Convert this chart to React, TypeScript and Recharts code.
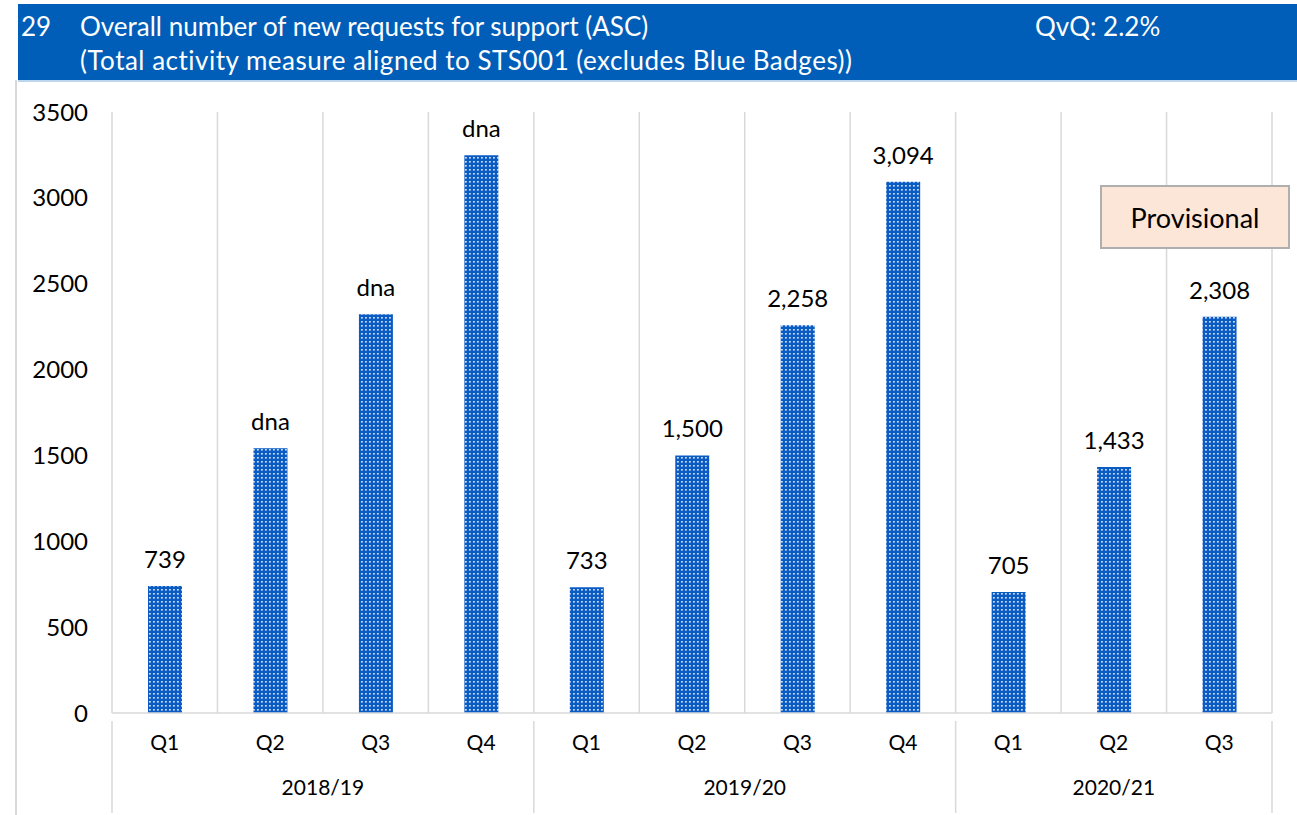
import React from 'react';
import { BarChart, Bar, XAxis, YAxis, CartesianGrid, LabelList } from 'recharts';

const quarters = ['Q1', 'Q2', 'Q3', 'Q4', 'Q1', 'Q2', 'Q3', 'Q4', 'Q1', 'Q2', 'Q3'];
const years = ['2018/19', '2018/19', '2018/19', '2018/19', '2019/20', '2019/20', '2019/20', '2019/20', '2020/21', '2020/21', '2020/21'];
const values = [739, 1542, 2322, 3248, 733, 1500, 2258, 3094, 705, 1433, 2308];
const valueLabels = ['739', 'dna', 'dna', 'dna', '733', '1,500', '2,258', '3,094', '705', '1,433', '2,308'];
const yTicks = [0, 500, 1000, 1500, 2000, 2500, 3000, 3500];

const titleNumber = '29';
const titleLine1 = 'Overall number of new requests for support (ASC)';
const titleLine2 = '(Total activity measure aligned to STS001 (excludes Blue Badges))';
const qvq = 'QvQ: 2.2%';
const provisional = 'Provisional';

const data = quarters.map((q, i) => ({ q, year: years[i], value: values[i], label: valueLabels[i], idx: i }));

const FONT = 'Lato, "Open Sans", sans-serif';
const CHART_W = 1297;
const CHART_H = 815;
const MARGIN = { top: 112, right: 25, bottom: 10, left: 0 };
const Y_W = 112;
const PLOT_W = CHART_W - MARGIN.left - MARGIN.right - Y_W;
const BW = PLOT_W / quarters.length;
const GRID = '#D9D9D9';

const YearTick = (props: any) => {
  const { x, y, payload } = props;
  const i = payload.index;
  const yr = years[i];
  const isStart = i === 0 || years[i - 1] !== yr;
  const isEnd = i === years.length - 1;
  if (!isStart && !isEnd) return null;
  let count = 0;
  for (let k = i; k < years.length && years[k] === yr; k++) count++;
  const top = y - 46;
  const bottom = y + 46;
  return (
    <g>
      {isStart && (
        <>
          <line x1={x - BW / 2} x2={x - BW / 2} y1={top} y2={bottom} stroke={GRID} strokeWidth={1.5} />
          <text x={x - BW / 2 + (count * BW) / 2} y={y + 28} textAnchor="middle" fontSize={21} fontFamily={FONT} fill="#000">
            {yr}
          </text>
        </>
      )}
      {isEnd && <line x1={x + BW / 2} x2={x + BW / 2} y1={top} y2={bottom} stroke={GRID} strokeWidth={1.5} />}
    </g>
  );
};

const ValueLabel = (props: any) => {
  const { x, y, width, index } = props;
  return (
    <text x={x + width / 2} y={y - 18} textAnchor="middle" fontSize={24} fontFamily={FONT} fill="#000">
      {valueLabels[index]}
    </text>
  );
};

export default function App() {
  return (
    <div style={{ position: 'absolute', left: 0, top: 0, width: CHART_W, height: CHART_H, background: '#fff', fontFamily: FONT }}>
      <svg width={0} height={0} style={{ position: 'absolute' }}>
        <defs>
          <pattern id="dots" width={4} height={4} patternUnits="userSpaceOnUse">
            <rect x={0} y={0} width={4} height={4} fill="#0A5BC4" />
            <rect x={1} y={1} width={1.8} height={1.6} fill="#FFFFFF" opacity={0.8} />
          </pattern>
        </defs>
      </svg>
      {/* outer frame */}
      <div style={{ position: 'absolute', left: 15, top: 80, width: 2, height: 735, background: '#D9D9D9' }} />
      {/* header */}
      <div style={{ position: 'absolute', left: 18, top: 4, width: 1279, height: 76, background: '#005EB8', color: '#fff', fontSize: 26, lineHeight: '30px' }}>
        <div style={{ position: 'absolute', left: 3, top: 7 }}>{titleNumber}</div>
        <div style={{ position: 'absolute', left: 62, top: 7 }}>{titleLine1}</div>
        <div style={{ position: 'absolute', left: 62, top: 41, letterSpacing: '0.5px' }}>{titleLine2}</div>
        <div style={{ position: 'absolute', left: 1017, top: 7 }}>{qvq}</div>
      </div>
      <div style={{ position: 'absolute', left: 18, top: 80, width: 1279, height: 2, background: '#BDD7EE' }} />
      <div style={{ position: 'absolute', left: 0, top: 0 }}>
        <BarChart width={CHART_W} height={CHART_H} data={data} margin={MARGIN} barSize={34}>
          <CartesianGrid
            horizontal={false}
            stroke={GRID}
            strokeWidth={1.5}
            verticalCoordinatesGenerator={({ offset }: any) =>
              Array.from({ length: quarters.length + 1 }, (_, i) => offset.left + (i * offset.width) / quarters.length)
            }
          />
          <YAxis
            width={Y_W}
            domain={[0, 3500]}
            ticks={yTicks}
            interval={0}
            axisLine={false}
            tickLine={false}
            tickSize={0}
            tickMargin={24}
            tick={{ fontSize: 24, fill: '#000', fontFamily: FONT }}
          />
          <XAxis
            dataKey="idx"
            type="category"
            height={46}
            tickLine={false}
            tickSize={0}
            tickMargin={22}
            axisLine={{ stroke: GRID, strokeWidth: 1.5 }}
            interval={0}
            tickFormatter={(v: any) => quarters[v]}
            tick={{ fontSize: 21, fill: '#000', fontFamily: FONT }}
          />
          <XAxis
            xAxisId="year"
            dataKey="idx"
            type="category"
            height={46}
            tickLine={false}
            axisLine={false}
            interval={0}
            tick={<YearTick />}
          />
          <Bar dataKey="value" fill="url(#dots)" isAnimationActive={false}>
            <LabelList dataKey="label" content={<ValueLabel />} />
          </Bar>
        </BarChart>
      </div>
      <div
        style={{
          position: 'absolute',
          left: 1100,
          top: 185,
          width: 186,
          height: 60,
          background: '#FCE6D8',
          border: '2px solid #AFAFAF',
          display: 'flex',
          alignItems: 'center',
          justifyContent: 'center',
          fontSize: 27,
          color: '#000',
        }}
      >
        {provisional}
      </div>
    </div>
  );
}
